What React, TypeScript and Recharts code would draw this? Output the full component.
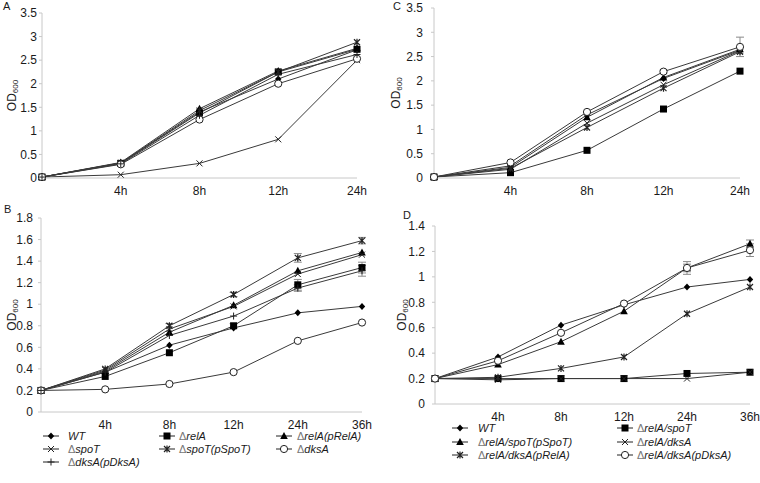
import { LineChart, Line, XAxis, YAxis, ErrorBar } from "recharts";

// time points (first point is the start, unlabeled)
const timesShort = ["", "4h", "8h", "12h", "24h"];
const timesLong = ["", "4h", "8h", "12h", "24h", "36h"];

// panel A
const wtA = [0.02, 0.32, 1.4, 2.1, 2.72];
const relA_A = [0.02, 0.31, 1.38, 2.25, 2.73];
const relAp_A = [0.02, 0.33, 1.47, 2.27, 2.75];
const spoT_A = [0.02, 0.07, 0.31, 0.82, 2.5];
const spoTp_A = [0.02, 0.32, 1.43, 2.25, 2.88];
const dksA_A = [0.02, 0.29, 1.24, 2.0, 2.53];
const dksAp_A = [0.02, 0.3, 1.33, 2.2, 2.62];

// panel B
const wtB = [0.2, 0.37, 0.62, 0.78, 0.92, 0.98];
const relA_B = [0.2, 0.33, 0.55, 0.8, 1.18, 1.34];
const relAp_B = [0.2, 0.38, 0.74, 0.99, 1.31, 1.48];
const spoT_B = [0.2, 0.39, 0.77, 0.98, 1.28, 1.46];
const spoTp_B = [0.2, 0.4, 0.8, 1.09, 1.43, 1.59];
const dksA_B = [0.2, 0.21, 0.26, 0.37, 0.66, 0.83];
const dksAp_B = [0.2, 0.37, 0.71, 0.89, 1.15, 1.31];
const relA_Berr = [0, 0, 0, 0.02, 0.05, 0.05];
const spoTp_Berr = [0, 0, 0.02, 0.02, 0.04, 0.03];
const dksAp_Berr = [0, 0, 0, 0, 0.03, 0.05];

// panel C
const wtC = [0.02, 0.25, 1.3, 2.05, 2.63];
const rsC = [0.02, 0.11, 0.57, 1.42, 2.2];
const rsPC = [0.02, 0.22, 1.25, 2.07, 2.65];
const rdC = [0.02, 0.18, 1.13, 1.92, 2.62];
const rdRC = [0.02, 0.2, 1.04, 1.85, 2.6];
const rdDC = [0.02, 0.32, 1.36, 2.19, 2.7];
const rdDCerr = [0, 0, 0, 0.03, 0.2];

// panel D
const wtD = [0.2, 0.37, 0.62, 0.78, 0.92, 0.98];
const rsD = [0.2, 0.2, 0.2, 0.2, 0.24, 0.25];
const rsPD = [0.2, 0.31, 0.49, 0.73, 1.07, 1.26];
const rdD = [0.2, 0.19, 0.2, 0.2, 0.2, 0.25];
const rdRD = [0.2, 0.21, 0.28, 0.37, 0.71, 0.92];
const rdDD = [0.2, 0.34, 0.56, 0.79, 1.07, 1.21];
const rdDDerr = [0, 0, 0, 0, 0.05, 0.05];
const rsPDerr = [0, 0, 0, 0, 0.03, 0.03];

const ticksAC = [0, 0.5, 1, 1.5, 2, 2.5, 3, 3.5];
const ticksB = [0, 0.2, 0.4, 0.6, 0.8, 1, 1.2, 1.4, 1.6, 1.8];
const ticksD = [0, 0.2, 0.4, 0.6, 0.8, 1, 1.2, 1.4];

type Shape = "diamond" | "square" | "triangle" | "cross" | "star" | "circle" | "plus";

interface Series {
  key: string;
  name: string;
  shape: Shape;
  values: number[];
  err?: number[];
}

const FONT = "'Liberation Sans', Arial, sans-serif";
const INK = "#1a1a1a";

function Marker({ shape, cx, cy }: { shape: Shape; cx: number; cy: number }) {
  if (cx == null || cy == null) return null;
  switch (shape) {
    case "diamond":
      return <path d={`M${cx},${cy - 3.5}L${cx + 3.2},${cy}L${cx},${cy + 3.5}L${cx - 3.2},${cy}Z`} fill="#000" />;
    case "square":
      return <rect x={cx - 3.5} y={cy - 3.5} width={7} height={7} fill="#000" />;
    case "triangle":
      return <path d={`M${cx},${cy - 4}L${cx + 3.8},${cy + 3}L${cx - 3.8},${cy + 3}Z`} fill="#000" />;
    case "cross":
      return (
        <path d={`M${cx - 3},${cy - 3}L${cx + 3},${cy + 3}M${cx - 3},${cy + 3}L${cx + 3},${cy - 3}`} stroke="#222" strokeWidth={1} fill="none" />
      );
    case "star":
      return (
        <path
          d={`M${cx - 3},${cy - 3}L${cx + 3},${cy + 3}M${cx - 3},${cy + 3}L${cx + 3},${cy - 3}M${cx},${cy - 3.5}L${cx},${cy + 3.5}`}
          stroke="#222"
          strokeWidth={1.2}
          fill="none"
        />
      );
    case "circle":
      return <circle cx={cx} cy={cy} r={3.6} fill="#fff" stroke="#222" strokeWidth={1} />;
    case "plus":
      return <path d={`M${cx},${cy - 3.5}L${cx},${cy + 3.5}M${cx - 3.5},${cy}L${cx + 3.5},${cy}`} stroke="#222" strokeWidth={1} fill="none" />;
  }
  return null;
}

interface PanelProps {
  left: number;
  top: number;
  width: number;
  height: number;
  margin: { top: number; right: number; bottom: number; left: number };
  yWidth: number;
  xHeight: number;
  tickGap: number;
  ticks: number[];
  times: string[];
  series: Series[];
  labelX: number;
}

function Panel(p: PanelProps) {
  const rows = p.times.map((t, i) => {
    const r: Record<string, any> = { t };
    p.series.forEach((s) => {
      r[s.key] = s.values[i];
      if (s.err) r[s.key + "Err"] = s.err[i];
    });
    return r;
  });
  const top = p.ticks[p.ticks.length - 1];
  return (
    <div style={{ position: "absolute", left: p.left, top: p.top }}>
      <LineChart width={p.width} height={p.height} data={rows} margin={p.margin}>
        <XAxis
          dataKey="t"
          height={p.xHeight}
          interval={0}
          tickLine={false}
          stroke="#c8c8c8"
          tick={{ fill: INK, fontSize: 12, fontFamily: FONT }}
        />
        <YAxis
          width={p.yWidth}
          domain={[0, top]}
          ticks={p.ticks}
          tickSize={3}
          tickMargin={p.tickGap}
          stroke="#c8c8c8"
          tick={{ fill: INK, fontSize: 12, fontFamily: FONT }}
          label={{
            content: (lp: any) => {
              const vb = lp.viewBox || { y: 0, height: 0 };
              const cy = vb.y + vb.height / 2;
              return (
                <text
                  x={p.labelX}
                  y={cy}
                  transform={`rotate(-90, ${p.labelX}, ${cy})`}
                  textAnchor="middle"
                  dominantBaseline="central"
                  fill={INK}
                  fontFamily={FONT}
                  fontSize={12}
                >
                  OD
                  <tspan fontSize={8} dy={3}>
                    600
                  </tspan>
                </text>
              );
            },
          }}
        />
        {p.series.map((s) => (
          <Line
            key={s.key}
            dataKey={s.key}
            name={s.name}
            type="linear"
            stroke="#3a3a3a"
            strokeWidth={1}
            isAnimationActive={false}
            activeDot={false}
            dot={(d: any) => <Marker key={`${s.key}-${d.index}`} shape={s.shape} cx={d.cx} cy={d.cy} />}
          >
            {s.err && <ErrorBar dataKey={s.key + "Err"} width={4} stroke="#8a8a8a" strokeWidth={1} />}
          </Line>
        ))}
      </LineChart>
    </div>
  );
}

function LegendItem({ shape, label, x, y, lineFrom, lineTo }: { shape: Shape; label: string; x: number; y: number; lineFrom: number; lineTo: number }) {
  const hasDelta = label.startsWith("Δ");
  const rest = hasDelta ? label.slice(1) : label;
  const w = lineTo - lineFrom;
  return (
    <>
      <svg style={{ position: "absolute", left: lineFrom, top: y - 5 }} width={w} height={10}>
        <line x1={0} y1={5} x2={w} y2={5} stroke="#222" strokeWidth={1} />
        <Marker shape={shape} cx={w / 2} cy={5} />
      </svg>
      <div
        style={{
          position: "absolute",
          left: x,
          top: y - 7,
          height: 14,
          lineHeight: "14px",
          fontFamily: FONT,
          fontSize: 11,
          color: INK,
          whiteSpace: "nowrap",
        }}
      >
        {hasDelta && <span style={{ color: "#777", fontWeight: 300 }}>Δ</span>}
        <span style={{ fontStyle: "italic" }}>{rest}</span>
      </div>
    </>
  );
}

function Letter({ text, x, y }: { text: string; x: number; y: number }) {
  return (
    <div style={{ position: "absolute", left: x, top: y - 7, fontFamily: FONT, fontSize: 11, lineHeight: "14px", color: INK }}>{text}</div>
  );
}

const seriesA: Series[] = [
  { key: "wt", name: "WT", shape: "diamond", values: wtA },
  { key: "relA", name: "ΔrelA", shape: "square", values: relA_A },
  { key: "relAp", name: "ΔrelA(pRelA)", shape: "triangle", values: relAp_A },
  { key: "spoT", name: "ΔspoT", shape: "cross", values: spoT_A },
  { key: "spoTp", name: "ΔspoT(pSpoT)", shape: "star", values: spoTp_A },
  { key: "dksA", name: "ΔdksA", shape: "circle", values: dksA_A },
  { key: "dksAp", name: "ΔdksA(pDksA)", shape: "plus", values: dksAp_A },
];

const seriesB: Series[] = [
  { key: "wt", name: "WT", shape: "diamond", values: wtB },
  { key: "relA", name: "ΔrelA", shape: "square", values: relA_B, err: relA_Berr },
  { key: "relAp", name: "ΔrelA(pRelA)", shape: "triangle", values: relAp_B },
  { key: "spoT", name: "ΔspoT", shape: "cross", values: spoT_B },
  { key: "spoTp", name: "ΔspoT(pSpoT)", shape: "star", values: spoTp_B, err: spoTp_Berr },
  { key: "dksA", name: "ΔdksA", shape: "circle", values: dksA_B },
  { key: "dksAp", name: "ΔdksA(pDksA)", shape: "plus", values: dksAp_B, err: dksAp_Berr },
];

const seriesC: Series[] = [
  { key: "wt", name: "WT", shape: "diamond", values: wtC },
  { key: "rs", name: "ΔrelA/spoT", shape: "square", values: rsC },
  { key: "rsP", name: "ΔrelA/spoT(pSpoT)", shape: "triangle", values: rsPC },
  { key: "rd", name: "ΔrelA/dksA", shape: "cross", values: rdC },
  { key: "rdR", name: "ΔrelA/dksA(pRelA)", shape: "star", values: rdRC },
  { key: "rdD", name: "ΔrelA/dksA(pDksA)", shape: "circle", values: rdDC, err: rdDCerr },
];

const seriesD: Series[] = [
  { key: "wt", name: "WT", shape: "diamond", values: wtD },
  { key: "rs", name: "ΔrelA/spoT", shape: "square", values: rsD },
  { key: "rsP", name: "ΔrelA/spoT(pSpoT)", shape: "triangle", values: rsPD, err: rsPDerr },
  { key: "rd", name: "ΔrelA/dksA", shape: "cross", values: rdD },
  { key: "rdR", name: "ΔrelA/dksA(pRelA)", shape: "star", values: rdRD },
  { key: "rdD", name: "ΔrelA/dksA(pDksA)", shape: "circle", values: rdDD, err: rdDDerr },
];

export default function App() {
  return (
    <div style={{ position: "fixed", left: 0, top: 0, width: 760, height: 483, background: "#fff", overflow: "hidden" }}>
      <Panel
        left={0}
        top={0}
        width={380}
        height={200}
        margin={{ top: 13, right: 23, bottom: 0, left: 0 }}
        yWidth={42}
        xHeight={22}
        tickGap={2}
        ticks={ticksAC}
        times={timesShort}
        series={seriesA}
        labelX={12}
      />
      <Panel
        left={380}
        top={0}
        width={380}
        height={200}
        margin={{ top: 8, right: 20, bottom: 0, left: 0 }}
        yWidth={54}
        xHeight={22}
        tickGap={8}
        ticks={ticksAC}
        times={timesShort}
        series={seriesC}
        labelX={16}
      />
      <Panel
        left={0}
        top={200}
        width={380}
        height={242}
        margin={{ top: 18, right: 18, bottom: 0, left: 0 }}
        yWidth={41}
        xHeight={30}
        tickGap={5}
        ticks={ticksB}
        times={timesLong}
        series={seriesB}
        labelX={12}
      />
      <Panel
        left={380}
        top={200}
        width={380}
        height={232}
        margin={{ top: 26, right: 10, bottom: 0, left: 0 }}
        yWidth={55}
        xHeight={28}
        tickGap={7}
        ticks={ticksD}
        times={timesLong}
        series={seriesD}
        labelX={22}
      />

      <Letter text="A" x={3} y={6} />
      <Letter text="C" x={393} y={6} />
      <Letter text="B" x={4} y={209} />
      <Letter text="D" x={403} y={215} />

      {seriesB.map((s, i) => {
        const col = i % 3;
        const row = Math.floor(i / 3);
        const mx = [51, 167, 284][col];
        return (
          <LegendItem
            key={s.key}
            shape={s.shape}
            label={s.name}
            x={[68, 179, 297][col]}
            y={[436, 449, 462][row]}
            lineFrom={mx - 8}
            lineTo={mx + 8}
          />
        );
      })}
      {seriesD.map((s, i) => {
        const col = i % 2;
        const row = Math.floor(i / 2);
        const mx = [460, 625][col];
        return (
          <LegendItem
            key={s.key}
            shape={s.shape}
            label={s.name}
            x={[478, 637][col]}
            y={[428, 442, 455][row]}
            lineFrom={mx - 8}
            lineTo={mx + 8}
          />
        );
      })}
    </div>
  );
}
